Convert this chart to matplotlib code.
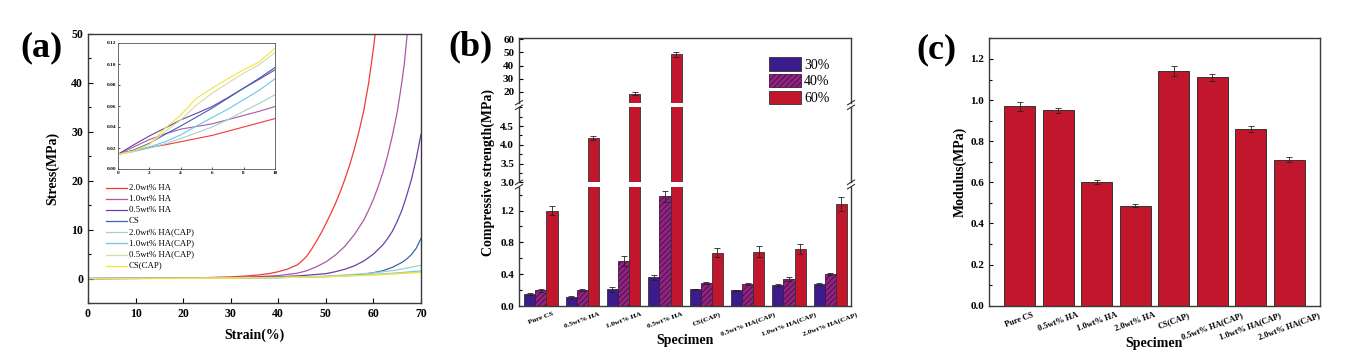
import matplotlib
matplotlib.use('Agg')
import matplotlib.pyplot as plt
from matplotlib.lines import Line2D
from matplotlib.patches import Patch
from matplotlib.ticker import MultipleLocator, FormatStrFormatter

plt.rcParams['font.family'] = ['Liberation Serif', 'DejaVu Serif']
plt.rcParams['font.weight'] = 'bold'
plt.rcParams['axes.labelweight'] = 'bold'
plt.rcParams['hatch.linewidth'] = 0.7

# ---------------- data: panel (a) stress-strain ----------------
curve_names = ['2.0wt% HA', '1.0wt% HA', '0.5wt% HA', 'CS',
               '2.0wt% HA(CAP)', '1.0wt% HA(CAP)', '0.5wt% HA(CAP)', 'CS(CAP)']
curve_colors = ['#f23a3a', '#ad58a6', '#6a40a8', '#3d63b6',
                '#9fd3c7', '#6cc6ea', '#d5dca6', '#f1e43e']

red_x = [0, 10, 20, 25, 30, 33, 36, 38, 40, 42, 44, 45, 46, 47, 48, 49, 50, 51, 52, 53, 54, 55, 56, 57, 58, 59, 60, 60.6]
red_y = [0, 0.05, 0.12, 0.2, 0.35, 0.5, 0.75, 1.0, 1.4, 1.95, 2.8, 3.6, 4.6, 6.0, 7.6, 9.3, 11.2, 13.2, 15.3, 17.7, 20.3, 23.2, 26.5, 30.2, 34.5, 40.0, 47.0, 52.0]
mag_x = [0, 10, 20, 30, 35, 40, 44, 46, 48, 50, 52, 54, 56, 58, 59, 60, 61, 62, 63, 64, 65, 66, 66.5, 67.2]
mag_y = [0, 0.03, 0.08, 0.2, 0.35, 0.6, 1.1, 1.6, 2.4, 3.4, 4.8, 6.6, 9.0, 12.0, 14.0, 16.2, 18.8, 21.7, 25.2, 29.3, 34.0, 40.3, 44.0, 51.0]
pur_x = [0, 10, 20, 30, 40, 45, 50, 52, 54, 56, 58, 60, 62, 63, 64, 65, 66, 67, 68, 69, 70]
pur_y = [0, 0.03, 0.07, 0.15, 0.35, 0.6, 1.0, 1.4, 1.9, 2.6, 3.6, 5.0, 6.9, 8.2, 9.7, 11.7, 14.0, 17.0, 20.3, 24.5, 29.5]
cs_x = [0, 10, 20, 30, 40, 50, 55, 58, 60, 62, 64, 66, 67, 68, 69, 70]
cs_y = [0, 0.02, 0.05, 0.1, 0.2, 0.4, 0.65, 0.9, 1.2, 1.6, 2.3, 3.3, 4.0, 4.9, 6.2, 8.2]
teal_x = [0, 10, 20, 30, 40, 50, 55, 60, 65, 70]
teal_y = [0, 0.02, 0.05, 0.1, 0.22, 0.5, 0.8, 1.15, 1.75, 2.7]
cyan_x = [0, 10, 20, 30, 40, 50, 60, 65, 70]
cyan_y = [0, 0.02, 0.05, 0.1, 0.2, 0.42, 0.85, 1.15, 1.55]
pale_x = [0, 10, 20, 30, 40, 50, 60, 70]
pale_y = [0, 0.03, 0.06, 0.11, 0.2, 0.38, 0.75, 1.3]
yel_x = [0, 10, 20, 30, 40, 50, 60, 70]
yel_y = [0, 0.03, 0.06, 0.1, 0.2, 0.37, 0.72, 1.25]

# inset (0-10 % strain)
inset_x = [0, 1, 2, 3, 4, 5, 6, 7, 8, 9, 10]
inset_red = [0.014, 0.0175, 0.0205, 0.023, 0.026, 0.029, 0.032, 0.036, 0.040, 0.044, 0.048]
inset_mag = [0.014, 0.021, 0.028, 0.0335, 0.038, 0.0405, 0.043, 0.047, 0.051, 0.055, 0.0595]
inset_pur = [0.014, 0.023, 0.0315, 0.039, 0.0468, 0.053, 0.0595, 0.068, 0.077, 0.0855, 0.0945]
inset_cs = [0.014, 0.018, 0.0245, 0.033, 0.041, 0.0495, 0.058, 0.0675, 0.077, 0.0865, 0.0967]
inset_teal = [0.014, 0.0165, 0.020, 0.024, 0.029, 0.0345, 0.040, 0.047, 0.055, 0.0625, 0.0707]
inset_cyan = [0.014, 0.017, 0.021, 0.026, 0.0325, 0.041, 0.049, 0.057, 0.066, 0.075, 0.086]
inset_pale = [0.014, 0.017, 0.0235, 0.0356, 0.0468, 0.061, 0.0722, 0.0818, 0.0913, 0.0993, 0.111]
inset_yel = [0.014, 0.017, 0.0235, 0.0388, 0.0515, 0.0675, 0.077, 0.086, 0.0945, 0.102, 0.115]

# ---------------- data: panel (b) compressive strength ----------------
b_specimens = ['Pure CS', '0.5wt% HA', '1.0wt% HA', '0.5wt% HA', 'CS(CAP)',
               '0.5wt% HA(CAP)', '1.0wt% HA(CAP)', '2.0wt% HA(CAP)']
strain_levels = ['30%', '40%', '60%']
s30 = [0.15, 0.11, 0.21, 0.36, 0.21, 0.195, 0.26, 0.28]
s30_err = [0.01, 0.01, 0.03, 0.035, 0.008, 0.008, 0.012, 0.015]
s40 = [0.20, 0.20, 0.565, 1.38, 0.29, 0.28, 0.335, 0.40]
s40_err = [0.02, 0.01, 0.06, 0.07, 0.01, 0.01, 0.025, 0.01]
s60 = [1.20, 4.18, 18.5, 48.5, 0.67, 0.68, 0.72, 1.28]
s60_err = [0.06, 0.06, 1.2, 1.8, 0.06, 0.07, 0.06, 0.09]

# ---------------- data: panel (c) modulus ----------------
c_specimens = ['Pure CS', '0.5wt% HA', '1.0wt% HA', '2.0wt% HA', 'CS(CAP)',
               '0.5wt% HA(CAP)', '1.0wt% HA(CAP)', '2.0wt% HA(CAP)']
modulus = [0.97, 0.95, 0.60, 0.487, 1.14, 1.11, 0.86, 0.71]
modulus_err = [0.022, 0.013, 0.01, 0.009, 0.025, 0.018, 0.013, 0.012]

RED = '#c1162c'
PURPLE = '#3c1b8c'
MAGENTA = '#8f2581'
EDGE = '#333333'

W, H = 1351, 362
def fr(l, t, r, b):
    return [l / W, 1 - b / H, (r - l) / W, (b - t) / H]

fig = plt.figure(figsize=(W / 100, H / 100), dpi=100)

def style_spines(ax, lw=1.0):
    for s in ax.spines.values():
        s.set_linewidth(lw)
        s.set_color('#3a3a3a')

# ======================= (a) =======================
axa = fig.add_axes(fr(88, 34, 421, 303))
series = [(red_x, red_y), (mag_x, mag_y), (pur_x, pur_y), (cs_x, cs_y),
          (teal_x, teal_y), (cyan_x, cyan_y), (pale_x, pale_y), (yel_x, yel_y)]
for (xs, ys), col, name in zip(series, curve_colors, curve_names):
    axa.plot(xs, ys, color=col, lw=0.9, label=name)
axa.set_xlim(0, 70)
axa.set_ylim(-5, 50)
axa.set_xticks(range(0, 71, 10))
axa.set_yticks(range(0, 51, 10))
axa.yaxis.set_minor_locator(MultipleLocator(5))
axa.tick_params(which='both', direction='in', labelsize=8.5, width=0.8)
axa.tick_params(which='major', length=3.5)
axa.tick_params(which='minor', length=2)
style_spines(axa)
axa.set_xlabel('Strain(%)', fontsize=10)
axa.set_ylabel('Stress(MPa)', fontsize=10)
axa.xaxis.set_label_coords(0.5, -0.093)
axa.yaxis.set_label_coords(-0.085, 0.5)

# manual legend
for i, (name, col) in enumerate(zip(curve_names, curve_colors)):
    y = (303 - (187.7 + i * 11.14)) / 269
    axa.plot([0.054, 0.117], [y, y], transform=axa.transAxes, color=col, lw=0.9)
    axa.text(0.123, y, name, transform=axa.transAxes, fontsize=6.3,
             fontweight='normal', va='center', ha='left')

# inset
axi = fig.add_axes(fr(118, 43, 275, 169))
inset_series = [inset_red, inset_mag, inset_pur, inset_cs,
                inset_teal, inset_cyan, inset_pale, inset_yel]
for ys, col in zip(inset_series, curve_colors):
    axi.plot(inset_x, ys, color=col, lw=0.8)
axi.set_xlim(0, 10)
axi.set_ylim(0, 0.12)
axi.set_xticks(range(0, 11, 2))
axi.set_yticks([0, 0.02, 0.04, 0.06, 0.08, 0.10, 0.12])
axi.yaxis.set_major_formatter(FormatStrFormatter('%.2f'))
axi.tick_params(direction='in', labelsize=3.8, length=1.5, width=0.5, pad=1.5)
for s in axi.spines.values():
    s.set_linewidth(0.6)
    s.set_color('#555555')

fig.text(41.5 / W, 1 - 47.5 / H, '(a)', fontsize=26, fontweight='bold',
         ha='center', va='center')

# ======================= (b) =======================
ax_top = fig.add_axes(fr(519, 38, 851, 102.7))
ax_mid = fig.add_axes(fr(519, 107.3, 851, 182.3))
ax_bot = fig.add_axes(fr(519, 186.7, 851, 306))
bw = 0.27
xb = list(range(len(b_specimens)))
ekw = dict(elinewidth=0.6, capthick=0.6, ecolor='#222222')
for ax in (ax_top, ax_mid, ax_bot):
    ax.bar([x - bw for x in xb], s30, bw, color=PURPLE, edgecolor=EDGE, lw=0.6,
           yerr=s30_err, capsize=2, error_kw=ekw)
    ax.bar(xb, s40, bw, color=MAGENTA, edgecolor='#4e0f48', lw=0.6, hatch='//////',
           yerr=s40_err, capsize=2, error_kw=ekw)
    ax.bar([x + bw for x in xb], s60, bw, color=RED, edgecolor=EDGE, lw=0.6,
           yerr=s60_err, capsize=2, error_kw=ekw)
    ax.set_xlim(-0.53, 7.5)
    style_spines(ax)
    ax.tick_params(which='both', direction='in', labelsize=8, width=0.8)
    ax.tick_params(which='major', length=3)
    ax.tick_params(which='minor', length=1.8)

ax_top.set_ylim(11.8, 61)
ax_top.set_yticks([20, 30, 40, 50, 60])
ax_top.spines['bottom'].set_visible(False)
ax_top.tick_params(axis='x', bottom=False, labelbottom=False)

ax_mid.set_ylim(3.0, 5.0)
ax_mid.set_yticks([3.0, 3.5, 4.0, 4.5])
ax_mid.yaxis.set_minor_locator(MultipleLocator(0.25))
ax_mid.yaxis.set_major_formatter(FormatStrFormatter('%.1f'))
ax_mid.spines['top'].set_visible(False)
ax_mid.spines['bottom'].set_visible(False)
ax_mid.tick_params(axis='x', bottom=False, labelbottom=False)

ax_bot.set_ylim(0, 1.5)
ax_bot.set_yticks([0.0, 0.4, 0.8, 1.2])
ax_bot.yaxis.set_minor_locator(MultipleLocator(0.2))
ax_bot.yaxis.set_major_formatter(FormatStrFormatter('%.1f'))
ax_bot.spines['top'].set_visible(False)
ax_bot.set_xticks(xb)
ax_bot.set_xticklabels(b_specimens, rotation=20, ha='center', fontsize=5.3)
ax_bot.tick_params(axis='x', length=0, pad=4)
ax_bot.set_xlabel('Specimen', fontsize=10)
ax_bot.xaxis.set_label_coords(0.5, -0.235)
ax_mid.set_ylabel('Compressive strength(MPa)', fontsize=10)
ax_mid.yaxis.set_label_coords(-0.073, (182.3 - 172) / 75)

# break marks
for xpix in (519, 851):
    for ypix in (102.7, 107.3, 182.3, 186.7):
        fig.add_artist(Line2D([(xpix - 3.5) / W, (xpix + 3.5) / W],
                              [1 - (ypix + 2.2) / H, 1 - (ypix - 2.2) / H],
                              transform=fig.transFigure, color='#333333', lw=0.8))

handles = [Patch(facecolor=PURPLE, edgecolor=EDGE, lw=0.6),
           Patch(facecolor=MAGENTA, edgecolor='#4e0f48', lw=0.6, hatch='//////'),
           Patch(facecolor=RED, edgecolor=EDGE, lw=0.6)]
fig.legend(handles, strain_levels, loc='upper left',
           bbox_to_anchor=(769.3 / W, 1 - 57.3 / H), frameon=False,
           borderpad=0, borderaxespad=0, handlelength=2.26, handleheight=1.1,
           labelspacing=0.16, handletextpad=0.25,
           prop=dict(family='Liberation Serif', size=10, weight='normal'))

fig.text(471 / W, 1 - 46.5 / H, '(b)', fontsize=26, fontweight='bold',
         ha='center', va='center')

# ======================= (c) =======================
axc = fig.add_axes(fr(989, 38.4, 1320, 305.7))
xc = list(range(len(c_specimens)))
axc.bar(xc, modulus, 0.8, color=RED, edgecolor=EDGE, lw=0.7,
        yerr=modulus_err, capsize=2.5, error_kw=ekw)
axc.set_xlim(-0.8, 7.8)
axc.set_ylim(0, 1.3)
axc.set_yticks([0.0, 0.2, 0.4, 0.6, 0.8, 1.0, 1.2])
axc.yaxis.set_minor_locator(MultipleLocator(0.1))
axc.yaxis.set_major_formatter(FormatStrFormatter('%.1f'))
axc.set_xticks(xc)
axc.set_xticklabels(c_specimens, rotation=20, ha='center', fontsize=6)
style_spines(axc)
axc.tick_params(which='both', direction='in', labelsize=8, width=0.8)
axc.tick_params(which='major', length=3)
axc.tick_params(which='minor', length=1.8)
axc.tick_params(axis='x', length=0, pad=4, labelsize=6)
axc.set_xlabel('Specimen', fontsize=10)
axc.set_ylabel('Modulus(MPa)', fontsize=10)
axc.xaxis.set_label_coords(0.5, -0.117)
axc.yaxis.set_label_coords(-0.066, 0.5)

fig.text(936 / W, 1 - 50 / H, '(c)', fontsize=26, fontweight='bold',
         ha='center', va='center')

fig.savefig('out.png', dpi=100)
